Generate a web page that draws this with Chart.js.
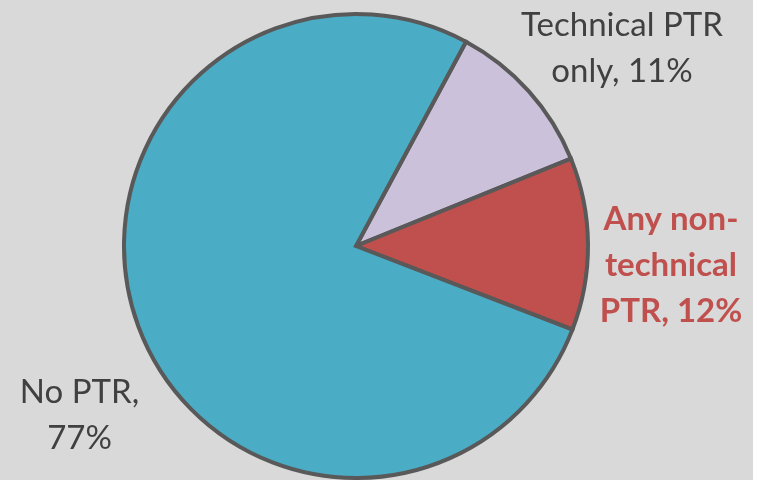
<!DOCTYPE html>
<html>
<head>
<meta charset="utf-8">
<script src="https://cdn.jsdelivr.net/npm/chart.js@4/dist/chart.umd.min.js"></script>
<style>
  html, body { margin: 0; padding: 0; background: #ffffff; }
  #wrap { position: relative; width: 758px; height: 480px; }
</style>
</head>
<body>
<div id="wrap"><canvas id="c" width="758" height="480"></canvas></div>
<script>
// ---- data ----
const categories = ["Technical PTR only", "Any non-technical PTR", "No PTR"];
const shares = [11, 12, 77];
const labelLines = [
  ["Technical PTR", "only, 11%"],
  ["Any non-", "technical", "PTR, 12%"],
  ["No PTR,", "77%"]
];
const sliceColors = ["#ccc1da", "#c0504d", "#4bacc6"];
const labelColors = ["#404040", "#c0504d", "#404040"];
const labelBold = [false, true, false];
// label anchor: centre x, first baseline y
const labelAnchors = [[622, 36], [671, 230], [79.5, 403]];
const lineHeight = 46;

const bgPlugin = {
  id: 'bg',
  beforeDraw(chart) {
    const ctx = chart.ctx;
    ctx.save();
    ctx.fillStyle = '#d9d9d9';
    ctx.fillRect(0, 0, 753, chart.height);
    ctx.restore();
  }
};

const labelPlugin = {
  id: 'lbl',
  afterDraw(chart) {
    const ctx = chart.ctx;
    ctx.save();
    ctx.textAlign = 'center';
    ctx.textBaseline = 'alphabetic';
    labelLines.forEach((lines, i) => {
      ctx.font = (labelBold[i] ? 'bold ' : '') + '33px Lato';
      ctx.fillStyle = labelColors[i];
      const [x, y] = labelAnchors[i];
      lines.forEach((t, j) => ctx.fillText(t, x, y + j * lineHeight));
    });
    ctx.restore();
  }
};

new Chart(document.getElementById('c'), {
  type: 'pie',
  data: {
    labels: categories,
    datasets: [{
      data: shares,
      backgroundColor: sliceColors,
      borderColor: '#595959',
      borderWidth: 4,
      borderJoinStyle: 'miter'
    }]
  },
  options: {
    responsive: false,
    animation: false,
    rotation: 28.3,
    radius: 232,
    layout: { padding: { left: 0, right: 46, top: 12, bottom: 0 } },
    plugins: { legend: { display: false }, tooltip: { enabled: false } }
  },
  plugins: [bgPlugin, labelPlugin]
});
</script>
</body>
</html>
